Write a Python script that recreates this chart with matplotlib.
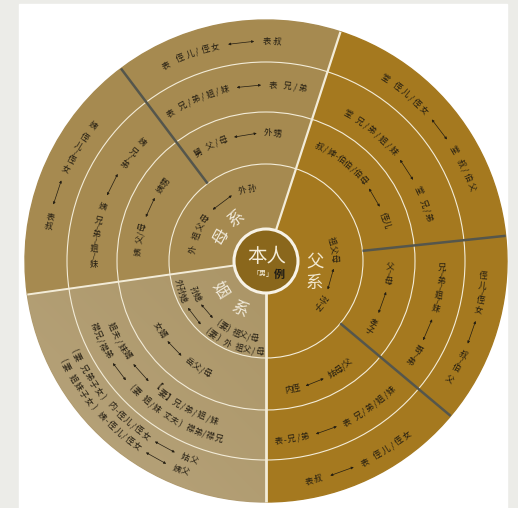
import numpy as np
import matplotlib
matplotlib.use('Agg')
import matplotlib.pyplot as plt
from matplotlib.patches import Wedge, Circle, Rectangle

plt.rcParams['font.family'] = ['Noto Sans CJK SC', 'DejaVu Sans']

# ---- labels (text content) ----
centre_title = "本人"
centre_note = "「男」"
centre_mark = "例"
side_names = ["父系", "母系", "姻系"]

mother_inner = ["外 祖父母 ↔ 外孙"]
mother_b = ["舅 父/母 ↔ 外甥", "表 兄/弟/姐/妹 ↔ 表 兄/弟", "表 侄儿/侄女 ↔ 表叔"]
mother_a = ["姨 父/母 ↔ 姨甥", "姨 兄/弟 ↔ 姨 兄/弟/姐/妹", "姨 侄儿/侄女 ↔ 表叔"]
inlaw = ["孙媳 ↔ (妻) 祖父/母", "外孙媳 ↔ (妻) 外 祖父/母", "女婿 ↔ 岳父/母",
         "姐夫/妹婿 ↔ 【妻】兄/弟/姐/妹", "襟兄/襟弟 ↔ (妻 姐/妹 丈夫) 襟弟/襟兄",
         "(妻 兄弟子女) 内-侄儿/侄女 ↔ 姑父", "(妻 姐妹子女) 姨-侄儿/侄女 ↔ 姨父"]
father_inner = ["祖父母 ↔ 孙子"]
father_up = ["叔/婶-伯伯/伯母 ↔ 侄儿", "堂 兄/弟/姐/妹 ↔ 堂 兄/弟", "堂 侄儿/侄女 ↔ 堂 叔/伯父"]
father_right = ["父/母 ↔ 孝子", "兄/弟/姐/妹 ↔ 哥/弟", "侄儿/侄女 ↔ 叔/伯 父"]
father_low = ["内侄 ↔ 姑母/父", "表-兄/弟 ↔ 表 兄/弟/姐/妹", "表叔 ↔ 表 侄儿/侄女"]

# ---- layout ----
cx, cy = 266, 247
rings = [32, 97, 149, 199, 241]
TXT = '#231d12'
GOLD = '#a5791f'
MOM = '#a68a50'
INLAW = '#b09a6e'
CORE = '#8a671c'

fig = plt.figure(figsize=(5.18, 5.08), dpi=100, facecolor='#ecece8')
ax = fig.add_axes([0, 0, 1, 1])
ax.set_xlim(0, 518)
ax.set_ylim(0, 508)
ax.set_aspect('equal')
ax.axis('off')

ax.add_patch(Rectangle((19, 0), 488, 504, color='white', zorder=0))

R = rings[-1]
ax.add_patch(Wedge((cx, cy), R, 270, 432, color=GOLD, zorder=1))
ax.add_patch(Wedge((cx, cy), R, 72, 188, color=MOM, zorder=1))
w_in = Wedge((cx, cy), R, 188, 270, color=INLAW, zorder=1)
ax.add_patch(w_in)
# light fade towards the lower left of the in-law sector
gx, gy = np.meshgrid(np.linspace(0, 1, 200), np.linspace(0, 1, 200))
g = np.clip((gx + gy) / 2, 0, 1)
cmap = matplotlib.colors.LinearSegmentedColormap.from_list('f', ['#b8a57e', '#ab9566'])
im = ax.imshow(g, extent=(cx - R, cx, cy - R, cy), origin='lower', cmap=cmap, zorder=1.1)
im.set_clip_path(w_in)

for r in rings[1:-1]:
    ax.add_patch(Circle((cx, cy), r, fill=False, ec='#f3ecd8', lw=0.8, zorder=2))


def radial(th, r0, r1, color, lw):
    t = np.radians(th)
    ax.plot([cx + r0 * np.cos(t), cx + r1 * np.cos(t)],
            [cy + r0 * np.sin(t), cy + r1 * np.sin(t)], color=color, lw=lw,
            solid_capstyle='butt', zorder=3)


radial(72, rings[0], R, '#f3ecd8', 1.6)
radial(188, rings[0], R, '#f3ecd8', 1.4)
radial(270, rings[0], R, '#f3ecd8', 2.0)
for th in (127, 6, 320):
    radial(th, rings[1], R, '#55564c', 1.8)

ax.add_patch(Circle((cx, cy), rings[0], fc=CORE, ec='#f7f2e6', lw=2.2, zorder=4))

WEIGHT = {'/': 0.55, ' ': 0.5, '-': 0.5, '(': 0.6, ')': 0.6, '【': 0.8, '】': 0.8, '↔': 3.0}


def arc_text(s, r, a0, a1, mode, size=6, color=TXT, weight='normal'):
    toks = list(s)
    ws = [WEIGHT.get(t, 1.0) for t in toks]
    cen = np.cumsum(ws) - np.array(ws) / 2
    span = cen[-1] - cen[0] if len(toks) > 1 else 1
    for t, w, c in zip(toks, ws, cen):
        if t == ' ':
            continue
        th = a0 + (a1 - a0) * (c - cen[0]) / span
        if t == '↔':
            d = (a1 - a0) * (w * 0.42) / span
            p = [(cx + r * np.cos(np.radians(a)), cy + r * np.sin(np.radians(a)))
                 for a in (th - d, th + d)]
            ax.annotate('', xy=p[1], xytext=p[0], zorder=6,
                        arrowprops=dict(arrowstyle='<|-|>', lw=0.5, color=color,
                                        mutation_scale=3.5, shrinkA=0, shrinkB=0))
            continue
        if mode == 'out':
            rot = th - 90
        elif mode == 'in':
            rot = th + 90
        elif mode == 'vr':
            rot = th
        elif mode == 'vl':
            rot = th - 180
        else:
            rot = 0
        x = cx + r * np.cos(np.radians(th))
        y = cy + r * np.sin(np.radians(th))
        ax.text(x, y, t, rotation=rot, rotation_mode='anchor', ha='center', va='center',
                fontsize=size, color=color, fontweight=weight, zorder=6)


# mother side
arc_text(mother_inner[0], 74, 171, 101, 'out')
arc_text(side_names[1], 51, 152, 125, 'out', size=12, color='#efe8d8')
for s, r, a0, a1 in zip(mother_b, [128, 176, 220], [122, 123, 117], [85, 78, 87]):
    arc_text(s, r, a0, a1, 'out')
arc_text(mother_a[0], 128, 176, 142, 'out')
arc_text(mother_a[1], 172, 136, 181, 'vl')
arc_text(mother_a[2], 220, 142, 171, 'vl')

# in-law side
arc_text(side_names[2], 55, 212, 242, 'in', size=12, color='#efe8d8')
for s, r, a0, a1 in zip(inlaw, [78, 91, 127, 168, 184, 212, 226],
                        [202, 194, 211, 203, 201, 205, 206],
                        [261, 266, 242, 252, 255, 250, 249]):
    arc_text(s, r, a0, a1, 'in')

# father side
arc_text(father_inner[0], 68, 17, -41, 'out')
for ch, r, th in zip(side_names[0], [49, 53], [-1, -25]):
    ax.text(cx + r * np.cos(np.radians(th)), cy + r * np.sin(np.radians(th)), ch,
            ha='center', va='center', fontsize=12.5, color='#f1e7cf', zorder=6)
for s, r, a0, a1 in zip(father_up, [126, 168, 218], [65, 61, 57], [17, 15, 20]):
    arc_text(s, r, a0, a1, 'out')
for s, r, a0, a1 in zip(father_right, [124, 176, 218], [-3, -2, -4], [-34, -35, -33]):
    arc_text(s, r, a0, a1, 'vr')
for s, r, a0, a1 in zip(father_low, [131, 180, 224], [280, 274, 281], [309, 314, 309]):
    arc_text(s, r, a0, a1, 'in')

# centre
ax.text(cx + 1, cy + 5, centre_title, ha='center', va='center', fontsize=14,
        color='#f4ecd8', zorder=7)
ax.text(cx - 3, cy - 13, centre_note, ha='center', va='center', fontsize=5,
        color='#f4ecd8', zorder=7)
ax.text(cx + 13, cy - 13, centre_mark, ha='center', va='center', fontsize=8,
        color='#1c1a16', fontweight='bold', zorder=7)

fig.savefig('out.png', dpi=100, facecolor=fig.get_facecolor())
